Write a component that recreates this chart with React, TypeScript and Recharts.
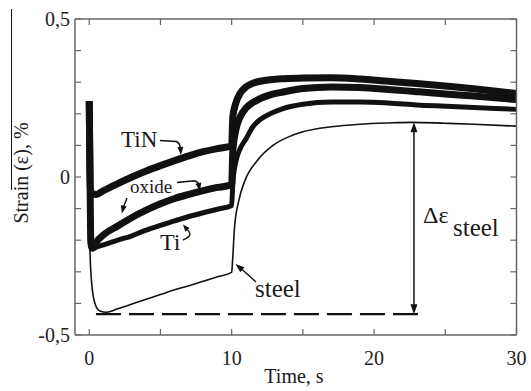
import React from 'react';
import { LineChart, Line, XAxis, YAxis } from 'recharts';

const W = 531;
const H = 391;
const PLOT = { left: 75, top: 19, right: 516.5, bottom: 335 };
const X_DOMAIN: [number, number] = [-1, 30];
const Y_DOMAIN: [number, number] = [-0.5, 0.5];
const FONT = "'Liberation Serif', 'DejaVu Serif', serif";

const xTicks = [0, 5, 10, 15, 20, 25, 30];
const xTickLabels = ['0', '', '10', '', '20', '', '30'];
const yTicks = [-0.5, -0.4, -0.3, -0.2, -0.1, 0, 0.1, 0.2, 0.3, 0.4, 0.5];
const yTickLabels = ['-0,5', '', '', '', '', '0', '', '', '', '', '0,5'];

const tinTime = [0, 0.08, 0.2, 0.5, 1, 2, 3, 4, 5, 6, 7, 8, 9, 10, 10.08, 10.3, 10.6, 11, 11.5, 12, 12.7, 13.5, 15, 17, 19, 21, 23, 25, 27, 30];
const tinStrain = [0.24, -0.04, -0.052, -0.055, -0.043, -0.021, 0.0, 0.019, 0.036, 0.052, 0.067, 0.08, 0.09, 0.098, 0.19, 0.235, 0.265, 0.285, 0.297, 0.303, 0.308, 0.311, 0.313, 0.314, 0.31, 0.303, 0.296, 0.288, 0.279, 0.264];

const oxideTime = [0, 0.1, 0.2, 0.5, 1, 2, 3, 4, 5, 6, 7, 8, 9, 10, 10.08, 10.3, 10.6, 11, 11.5, 12, 12.7, 13.5, 15, 17, 19, 21, 23, 25, 27, 30];
const oxideStrain = [0.24, -0.2, -0.225, -0.205, -0.183, -0.155, -0.128, -0.105, -0.085, -0.068, -0.055, -0.043, -0.033, -0.025, 0.08, 0.15, 0.19, 0.218, 0.236, 0.248, 0.26, 0.268, 0.28, 0.285, 0.283, 0.277, 0.27, 0.263, 0.256, 0.245];

const tiTime = [0, 0.1, 0.2, 0.5, 1, 2, 3, 4, 5, 6, 7, 8, 9, 10, 10.08, 10.3, 10.6, 11, 11.5, 12, 12.7, 13.5, 15, 17, 19, 21, 23, 25, 27, 30];
const tiStrain = [0.24, -0.2, -0.228, -0.222, -0.215, -0.2, -0.186, -0.168, -0.153, -0.139, -0.125, -0.113, -0.102, -0.09, -0.02, 0.05, 0.09, 0.12, 0.16, 0.182, 0.2, 0.215, 0.23, 0.237, 0.237, 0.234, 0.228, 0.224, 0.22, 0.214];

const steelTime = [0, 0.05, 0.17, 0.4, 0.75, 1.2, 2, 3, 4, 5, 6, 7, 8, 9, 10, 10.05, 10.2, 10.5, 10.9, 11.8, 12.9, 14, 15, 17, 19, 21, 22.7, 25, 27, 30];
const steelStrain = [0.24, -0.23, -0.335, -0.4, -0.424, -0.428, -0.417, -0.402, -0.387, -0.372, -0.357, -0.344, -0.33, -0.316, -0.302, -0.275, -0.16, -0.075, -0.015, 0.052, 0.1, 0.127, 0.143, 0.159, 0.167, 0.171, 0.173, 0.17, 0.167, 0.161];

const baselineStrain = -0.434;
const baselineStart = 0.47;
const baselineEnd = 23.2;
const deltaArrowTime = 22.8;

const zip = (ts: number[], vs: number[]) => ts.map((t, i) => ({ t, v: vs[i] }));
const tinData = zip(tinTime, tinStrain);
const oxideData = zip(oxideTime, oxideStrain);
const tiData = zip(tiTime, tiStrain);
const steelData = zip(steelTime, steelStrain);

const px = (t: number) => PLOT.left + ((t - X_DOMAIN[0]) / (X_DOMAIN[1] - X_DOMAIN[0])) * (PLOT.right - PLOT.left);
const py = (v: number) => PLOT.top + ((Y_DOMAIN[1] - v) / (Y_DOMAIN[1] - Y_DOMAIN[0])) * (PLOT.bottom - PLOT.top);

const labelFor = (ticks: number[], labels: string[]) => (v: number) => {
  const i = ticks.findIndex((t) => Math.abs(t - v) < 1e-9);
  return i >= 0 ? labels[i] : '';
};

function head(tx: number, ty: number, fx: number, fy: number, len = 9, half = 3.2) {
  const dx = tx - fx;
  const dy = ty - fy;
  const d = Math.hypot(dx, dy) || 1;
  const ux = dx / d;
  const uy = dy / d;
  const bx = tx - ux * len;
  const by = ty - uy * len;
  return `${tx},${ty} ${bx - uy * half},${by + ux * half} ${bx + uy * half},${by - ux * half}`;
}

const AXIS_STROKE = '#666';
const tickStyle = { fill: '#222', fontSize: 20, fontFamily: FONT };

export default function App() {
  const ax = px(deltaArrowTime);
  const topY = py(steelStrain[steelTime.indexOf(22.7)]);
  const botY = py(baselineStrain);
  return (
    <div style={{ position: 'absolute', left: 0, top: 0, width: W, height: H, background: '#fff', fontFamily: FONT }}>
      <div style={{ position: 'absolute', left: 0, top: 0 }}>
        <LineChart width={W} height={H} margin={{ top: 9, right: 4.5, bottom: 26, left: 35 }} style={{ fontFamily: FONT }}>
          <XAxis
            xAxisId={0}
            dataKey="t"
            type="number"
            domain={X_DOMAIN}
            ticks={xTicks}
            interval={0}
            allowDataOverflow
            height={30}
            orientation="bottom"
            tickSize={-6}
            tickMargin={22}
            tickFormatter={labelFor(xTicks, xTickLabels)}
            tick={tickStyle}
            stroke={AXIS_STROKE}
            axisLine={{ stroke: AXIS_STROKE, strokeWidth: 1.5 }}
            tickLine={{ stroke: AXIS_STROKE, strokeWidth: 1.2 }}
          />
          <XAxis
            xAxisId="top"
            dataKey="t"
            type="number"
            domain={X_DOMAIN}
            ticks={xTicks}
            interval={0}
            allowDataOverflow
            height={10}
            orientation="top"
            tickSize={-6}
            tickFormatter={() => ''}
            stroke={AXIS_STROKE}
            axisLine={{ stroke: AXIS_STROKE, strokeWidth: 1.5 }}
            tickLine={{ stroke: AXIS_STROKE, strokeWidth: 1.2 }}
          />
          <YAxis
            yAxisId={0}
            type="number"
            domain={Y_DOMAIN}
            ticks={yTicks}
            interval={0}
            allowDataOverflow
            width={40}
            orientation="left"
            tickSize={-6}
            tickMargin={11}
            tickFormatter={labelFor(yTicks, yTickLabels)}
            tick={tickStyle}
            stroke={AXIS_STROKE}
            axisLine={{ stroke: AXIS_STROKE, strokeWidth: 1.5 }}
            tickLine={{ stroke: AXIS_STROKE, strokeWidth: 1.2 }}
          />
          <YAxis
            yAxisId="right"
            type="number"
            domain={Y_DOMAIN}
            ticks={yTicks}
            interval={0}
            allowDataOverflow
            width={10}
            orientation="right"
            tickSize={-6}
            tickFormatter={() => ''}
            stroke={AXIS_STROKE}
            axisLine={{ stroke: AXIS_STROKE, strokeWidth: 1.5 }}
            tickLine={{ stroke: AXIS_STROKE, strokeWidth: 1.2 }}
          />
          <Line data={tiData} dataKey="v" type="monotone" stroke="#111" strokeWidth={5} dot={false} activeDot={false} isAnimationActive={false} />
          <Line data={oxideData} dataKey="v" type="monotone" stroke="#111" strokeWidth={7} dot={false} activeDot={false} isAnimationActive={false} />
          <Line data={tinData} dataKey="v" type="monotone" stroke="#111" strokeWidth={7} dot={false} activeDot={false} isAnimationActive={false} />
          <Line data={steelData} dataKey="v" type="monotone" stroke="#111" strokeWidth={1.6} dot={false} activeDot={false} isAnimationActive={false} />
        </LineChart>
      </div>
      <svg width={W} height={H} style={{ position: 'absolute', left: 0, top: 0, pointerEvents: 'none', fontFamily: FONT }}>
        <g fill="#1a1a1a" style={{ fontFamily: FONT }}>
          <line x1={11.5} y1={9} x2={11.5} y2={190} stroke="#111" strokeWidth={1} />
          <text x={21} y={173} fontSize={20} textAnchor="middle" dominantBaseline="central" transform="rotate(-90 21 173)">Strain (ε), %</text>
          <text x={294} y={383} fontSize={20} textAnchor="middle">Time, s</text>

          <line x1={px(baselineStart)} y1={py(baselineStrain)} x2={px(baselineEnd)} y2={py(baselineStrain)} stroke="#111" strokeWidth={2.4} strokeDasharray="25 8" />
          <line x1={ax} y1={topY + 8} x2={ax} y2={botY - 8} stroke="#111" strokeWidth={1.5} />
          <polygon points={head(ax, topY, ax, topY + 20, 10, 3.5)} fill="#111" />
          <polygon points={head(ax, botY, ax, botY - 20, 10, 3.5)} fill="#111" />

          <text x={121} y={147} fontSize={23}>TiN</text>
          <path d="M160,140.5 L176.5,141.5 Q179.5,143 180.3,147" fill="none" stroke="#111" strokeWidth={1.4} />
          <polygon points={head(181, 155, 180.3, 146, 8, 3)} fill="#111" />

          <text x={130} y={193} fontSize={19}>oxide</text>
          <path d="M177,182.5 L194,180.8 Q197.5,181.5 198.5,184" fill="none" stroke="#111" strokeWidth={1.4} />
          <polygon points={head(200, 191, 198.3, 183, 8, 3)} fill="#111" />
          <line x1={127} y1={198} x2={123.5} y2={207} stroke="#111" strokeWidth={1.4} />
          <polygon points={head(121.8, 213.5, 124, 205, 8, 3)} fill="#111" />

          <text x={160} y={250} fontSize={24}>Ti</text>
          <path d="M183,240 Q190,237 190,234 Q189.5,231 187,229.5" fill="none" stroke="#111" strokeWidth={1.4} />
          <polygon points={head(183, 224.5, 188, 230.5, 7, 2.8)} fill="#111" />

          <text x={255} y={297} fontSize={25}>steel</text>
          <line x1={256} y1={282} x2={241} y2={268.5} stroke="#111" strokeWidth={1.4} />
          <polygon points={head(235.5, 264, 245, 272, 9, 3.2)} fill="#111" />

          <text x={423} y={223} fontSize={24}>Δε</text>
          <text x={453} y={236} fontSize={25}>steel</text>
        </g>
      </svg>
    </div>
  );
}
